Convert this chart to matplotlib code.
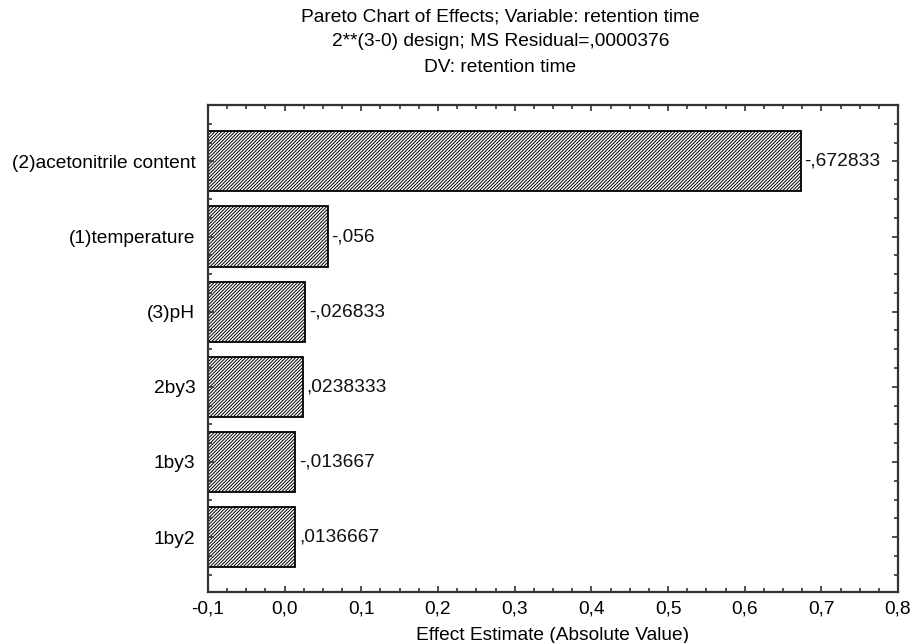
import matplotlib
matplotlib.use("Agg")
import matplotlib.pyplot as plt
from matplotlib.ticker import FuncFormatter, MultipleLocator

plt.rcParams["font.family"] = "Liberation Sans"
plt.rcParams["font.size"] = 13.8
plt.rcParams["hatch.linewidth"] = 0.7
plt.rcParams["hatch.color"] = "#444444"

factors = ["(2)acetonitrile content", "(1)temperature", "(3)pH", "2by3", "1by3", "1by2"]
effects = [-0.672833, -0.056, -0.026833, 0.0238333, -0.013667, 0.0136667]
x_min, x_max = -0.1, 0.8

fig = plt.figure(figsize=(9.13, 6.43), dpi=100)
ax = fig.add_axes([0.2278, 0.0793, 0.9836 - 0.2278, 0.8367 - 0.0793])

ypos = list(range(len(factors)))
widths = [abs(e) - x_min for e in effects]
ax.barh(ypos, widths, left=x_min, height=0.8, color="white", edgecolor="black",
        linewidth=1.3, hatch="//////////")

for y, e in zip(ypos, effects):
    lab = str(e).replace("0.", ",", 1)
    ax.text(abs(e) + 0.005, y, lab, va="center", ha="left", color="#111111")

ax.set_xlim(x_min, x_max)
ax.set_ylim(len(factors) - 0.27, -0.75)
ax.set_yticks(ypos)
ax.set_yticklabels(factors)
ax.xaxis.set_major_locator(MultipleLocator(0.1))
ax.xaxis.set_minor_locator(MultipleLocator(0.025))
ax.yaxis.set_minor_locator(MultipleLocator(0.25))
ax.xaxis.set_major_formatter(FuncFormatter(lambda v, p: f"{v:.1f}".replace(".", ",")))
ax.tick_params(which="both", direction="in", top=True, right=True, color="#333333")
ax.tick_params(which="major", length=4, width=1.2, pad=6)
ax.tick_params(which="minor", length=3, width=1.2)
ax.tick_params(axis="y", which="major", pad=9)
for s in ax.spines.values():
    s.set_linewidth(1.6)
    s.set_color("#333333")

ax.set_xlabel("Effect Estimate (Absolute Value)", labelpad=7)

fig.text(0.548, 1 - 17 / 643, "Pareto Chart of Effects; Variable: retention time", ha="center", va="center")
fig.text(0.548, 1 - 42 / 643, "2**(3-0) design; MS Residual=,0000376", ha="center", va="center")
fig.text(0.548, 1 - 67 / 643, "DV: retention time", ha="center", va="center")

fig.savefig("out.png", dpi=100)
